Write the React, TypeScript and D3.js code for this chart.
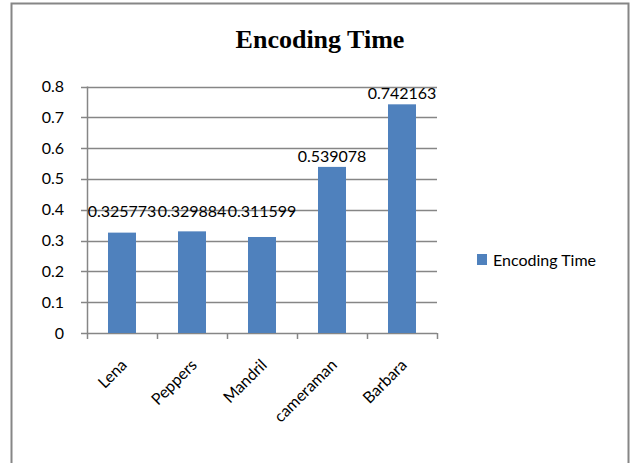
import React, { useEffect, useRef } from 'react';
import * as d3 from 'd3';

const categories = ['Lena', 'Peppers', 'Mandril', 'cameraman', 'Barbara'];
const encodingTime = [0.325773, 0.329884, 0.311599, 0.539078, 0.742163];
const yTicks = [0, 0.1, 0.2, 0.3, 0.4, 0.5, 0.6, 0.7, 0.8];
const seriesName = 'Encoding Time';
const chartTitle = 'Encoding Time';

const App = () => {
    const svgRef = useRef<SVGSVGElement>(null);
    const width = 631;
    const height = 463;

    useEffect(() => {
        const svg = d3.select(svgRef.current);
        svg.selectAll('*').remove();

        const font = 'Lato, Calibri, sans-serif';
        const fontSize = 16;
        const grey = '#868686';
        const barColor = '#4f81bd';

        // outer chart border (bottom edge is cut off in the picture)
        svg.append('path')
            .attr('d', `M11.5,${height + 5} V3.5 H628.5 V${height + 5}`)
            .attr('fill', 'none')
            .attr('stroke', grey)
            .attr('stroke-width', 2);

        svg.append('text')
            .attr('x', 320)
            .attr('y', 48)
            .attr('text-anchor', 'middle')
            .attr('font-family', '"Liberation Serif", "Times New Roman", serif')
            .attr('font-weight', 'bold')
            .attr('font-size', 26)
            .text(chartTitle);

        const x = d3.scaleBand().domain(categories).range([87, 437]).paddingInner(0.6).paddingOuter(0.3);
        const y = d3.scaleLinear().domain([0, 0.8]).range([333, 86.5]);

        // gridlines
        svg.append('g')
            .selectAll('line')
            .data(yTicks)
            .enter()
            .append('line')
            .attr('x1', 81)
            .attr('x2', 437)
            .attr('y1', d => Math.round(y(d)) + 0.5)
            .attr('y2', d => Math.round(y(d)) + 0.5)
            .attr('stroke', grey)
            .attr('stroke-width', 1.5);

        svg.append('g')
            .selectAll('text')
            .data(yTicks)
            .enter()
            .append('text')
            .attr('x', 64)
            .attr('y', d => y(d) + 5.5)
            .attr('text-anchor', 'end')
            .attr('font-family', font)
            .attr('font-size', fontSize)
            .attr('fill', '#000')
            .text(d => (d === 0 ? '0' : d.toFixed(1)));

        // bars
        svg.append('g')
            .selectAll('rect')
            .data(encodingTime)
            .enter()
            .append('rect')
            .attr('x', (d, i) => x(categories[i]) as number)
            .attr('y', d => y(d))
            .attr('width', x.bandwidth())
            .attr('height', d => y(0) - y(d))
            .attr('fill', barColor);

        // y axis line
        svg.append('line')
            .attr('x1', 87.5).attr('x2', 87.5)
            .attr('y1', y(0.8)).attr('y2', y(0))
            .attr('stroke', grey).attr('stroke-width', 1.5);

        // x axis ticks between categories
        const step = x.step();
        const tickXs = d3.range(categories.length + 1).map(i => 87 + i * step);
        svg.append('g')
            .selectAll('line')
            .data(tickXs)
            .enter()
            .append('line')
            .attr('x1', d => Math.round(d) + 0.5)
            .attr('x2', d => Math.round(d) + 0.5)
            .attr('y1', y(0))
            .attr('y2', y(0) + 6)
            .attr('stroke', grey)
            .attr('stroke-width', 1.5);

        // data labels
        svg.append('g')
            .selectAll('text')
            .data(encodingTime)
            .enter()
            .append('text')
            .attr('x', (d, i) => (x(categories[i]) as number) + x.bandwidth() / 2)
            .attr('y', d => Math.min(y(d) - 5, y(0.375)))
            .attr('text-anchor', 'middle')
            .attr('font-family', font)
            .attr('font-size', fontSize)
            .attr('fill', '#000')
            .text(d => String(d));

        // category labels, rotated
        svg.append('g')
            .selectAll('text')
            .data(categories)
            .enter()
            .append('text')
            .attr('transform', d => `translate(${(x(d) as number) + x.bandwidth() / 2 + 6},${y(0) + 33}) rotate(-45)`)
            .attr('text-anchor', 'end')
            .attr('font-family', font)
            .attr('font-size', fontSize)
            .attr('fill', '#000')
            .text(d => d);

        // legend
        const legend = svg.append('g').attr('transform', 'translate(477,254)');
        legend.append('rect').attr('width', 10).attr('height', 11).attr('fill', barColor);
        legend.append('text')
            .attr('x', 16)
            .attr('y', 11.5)
            .attr('font-family', font)
            .attr('font-size', fontSize)
            .attr('fill', '#000')
            .text(seriesName);
    }, []);

    return (
        <svg ref={svgRef} width={width} height={height} viewBox={`0 0 ${width} ${height}`}
            style={{ position: 'absolute', left: 0, top: 0, background: '#fff' }}></svg>
    );
};

export default App;
